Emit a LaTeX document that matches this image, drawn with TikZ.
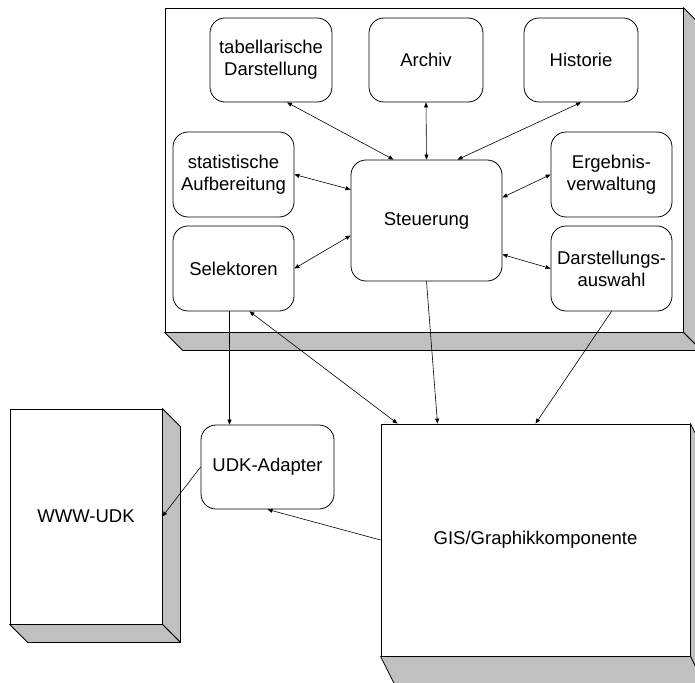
\documentclass[tikz,border=0pt]{standalone}
\usepackage{fontspec}
\setmainfont{Liberation Sans}
\usetikzlibrary{arrows.meta,calc}
\definecolor{sidegray}{RGB}{192,192,192}
\newcommand{\cubeside}[3]{%
    \filldraw[sidegray, draw=black, line width=0.8pt, line join=round]
        (#1.north east) -- ++(#2,#3) -- ($(#1.south east)+(#2,#3)$) -- (#1.south east) -- cycle;
    \filldraw[sidegray, draw=black, line width=0.8pt, line join=round]
        (#1.south west) -- ++(#2,#3) -- ($(#1.south east)+(#2,#3)$) -- (#1.south east) -- cycle;
}

\begin{document}
\begin{tikzpicture}[x=1pt, y=-1pt,
    box/.style={rectangle, draw, rounded corners=15pt, line width=0.8pt, fill=white,
                align=center, inner sep=0pt, font=\fontsize{18.5}{22}\selectfont},
    face/.style={rectangle, draw, line width=0.8pt, fill=white,
                 align=center, inner sep=0pt, font=\fontsize{18.5}{22}\selectfont},
    arr/.style={-{Triangle[length=5pt,width=4pt]}, line width=0.6pt},
    biarr/.style={{Triangle[length=5pt,width=4pt]}-{Triangle[length=5pt,width=4pt]}, line width=0.6pt}
]
    \clip (0,0) rectangle (695,682);

    % Frame of the client
    \node[face, minimum width=518pt, minimum height=324pt] (frame) at (424,170) {};
    \cubeside{frame}{18}{18}

    % Top row
    \node[box, minimum width=122pt, minimum height=84pt] (tab) at (271,60) {tabellarische\\Darstellung};
    \node[box, minimum width=114pt, minimum height=84pt] (archiv) at (426,60) {Archiv};
    \node[box, minimum width=114pt, minimum height=84pt] (hist) at (581,60) {Historie};

    % Left and right columns
    \node[box, minimum width=121pt, minimum height=85pt] (stat) at (233.5,174.5) {statistische\\Aufbereitung};
    \node[box, minimum width=121pt, minimum height=85pt] (sel) at (233.5,268.5) {Selektoren};
    \node[box, minimum width=121pt, minimum height=85pt] (erg) at (611.5,174.5) {Ergebnis-\\verwaltung};
    \node[box, minimum width=121pt, minimum height=85pt] (dar) at (611.5,268.5) {Darstellungs-\\auswahl};

    % Center
    \node[box, minimum width=151pt, minimum height=121pt] (steu) at (426.5,220.5) {Steuerung};

    % Outside components
    \node[face, minimum width=152pt, minimum height=215pt] (www) at (86,516.5) {WWW-UDK};
    \cubeside{www}{18}{18}
    \node[face, minimum width=309pt, minimum height=232pt] (gis) at (535.5,540) {GIS/Graphikkomponente};
    \cubeside{gis}{16}{32}
    \node[box, minimum width=133pt, minimum height=84pt] (udk) at (267.5,467) {UDK-Adapter};

    % Connections inside the frame
    \draw[biarr] ($(tab.south)+(16,0)$) -- ($(steu.north)+(-33,0)$);
    \draw[biarr] (archiv.south) -- (steu.north);
    \draw[biarr] (hist.south) -- ($(steu.north)+(31,0)$);
    \draw[biarr] (stat.east) -- ($(steu.west)+(0,-31)$);
    \draw[biarr] (sel.east) -- ($(steu.west)+(0,15)$);
    \draw[biarr] (erg.west) -- ($(steu.east)+(0,-23)$);
    \draw[biarr] (dar.west) -- ($(steu.east)+(0,34)$);

    % Connections to the outside
    \draw[arr] ($(sel.south)+(-4,0)$) -- ($(udk.north)+(-38,0)$);
    \draw[biarr] ($(sel.south)+(16,0)$) -- ($(gis.north)+(-138,0)$);
    \draw[arr] (steu.south) -- ($(gis.north)+(-98,0)$);
    \draw[arr] (dar.south) -- (gis.north);
    \draw[arr] (gis.west) -- (udk.south);
    \draw[arr] (udk.west) -- (www.east);
\end{tikzpicture}
\end{document}
